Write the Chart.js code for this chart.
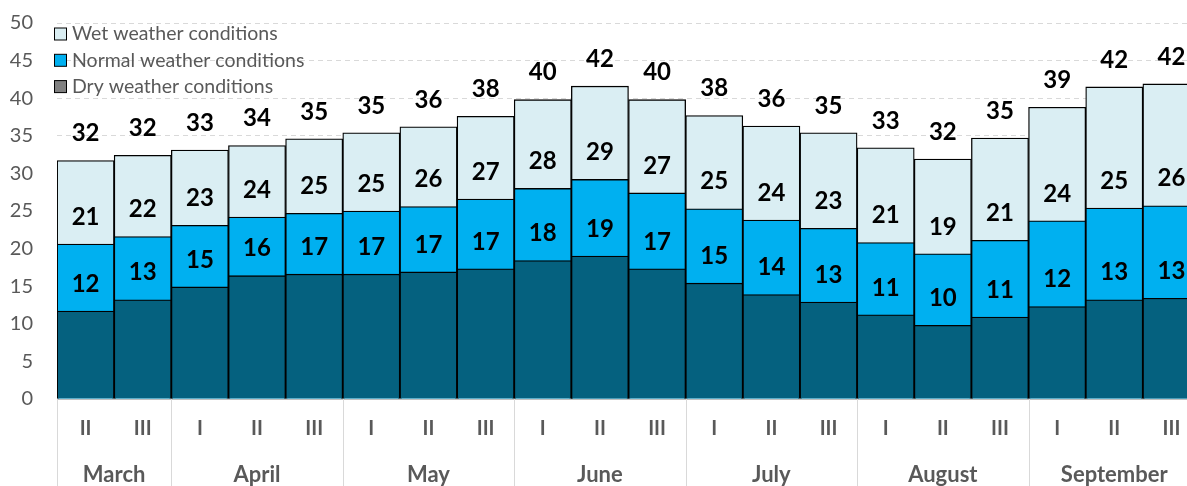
<!DOCTYPE html>
<html>
<head>
<meta charset="utf-8">
<script src="https://cdn.jsdelivr.net/npm/chart.js@4.4.0/dist/chart.umd.min.js"></script>
<style>
html, body { margin: 0; padding: 0; overflow: hidden; background: #fff; }
</style>
</head>
<body>
<canvas id="chart" width="1200" height="486"></canvas>
<script>
// ten-day periods and the month each group belongs to
const decades = ['II', 'III', 'I', 'II', 'III', 'I', 'II', 'III', 'I', 'II', 'III', 'I', 'II', 'III', 'I', 'II', 'III', 'I', 'II', 'III'];
const months = ['March', 'April', 'May', 'June', 'July', 'August', 'September'];
const monthSpans = [2, 3, 3, 3, 3, 3, 3];

// level reached under each scenario (bars overlap, they are not summed)
const dryLevel = [11.7, 13.2, 14.9, 16.4, 16.6, 16.6, 16.9, 17.3, 18.4, 19.0, 17.3, 15.4, 13.9, 12.9, 11.2, 9.8, 10.9, 12.3, 13.2, 13.4];
const normalLevel = [20.6, 21.6, 23.1, 24.2, 24.7, 25.0, 25.6, 26.6, 28.0, 29.2, 27.4, 25.3, 23.8, 22.7, 20.8, 19.3, 21.1, 23.7, 25.4, 25.7];
const wetLevel = [31.7, 32.4, 33.1, 33.7, 34.6, 35.4, 36.2, 37.6, 39.8, 41.6, 39.8, 37.7, 36.3, 35.4, 33.4, 31.9, 34.7, 38.8, 41.5, 41.9];

const yTicks = [0, 5, 10, 15, 20, 25, 30, 35, 40, 45, 50];

const legendItems = [
    { text: 'Wet weather conditions', color: '#DAEEF3' },
    { text: 'Normal weather conditions', color: '#00B0F0' },
    { text: 'Dry weather conditions', color: '#808080' }
];

const grey = '#595959';

// numbers sit a fixed distance above each level line
const valueLabels = {
    id: 'valueLabels',
    afterDatasetsDraw(chart) {
        const ctx = chart.ctx;
        const y = chart.scales.y;
        ctx.save();
        ctx.font = 'bold 24px Lato';
        ctx.fillStyle = '#000';
        ctx.textAlign = 'center';
        ctx.textBaseline = 'middle';
        chart.data.datasets.forEach((ds, i) => {
            const meta = chart.getDatasetMeta(i);
            meta.data.forEach((bar, j) => {
                ctx.fillText(Math.round(ds.data[j]), bar.x, y.getPixelForValue(ds.data[j]) - 27);
            });
        });
        ctx.restore();
    }
};

// second row of the category axis: month names and separators
const monthAxis = {
    id: 'monthAxis',
    afterDraw(chart) {
        const ctx = chart.ctx;
        const x = chart.scales.x;
        const area = chart.chartArea;
        const w = (area.right - area.left) / decades.length;
        ctx.save();
        ctx.strokeStyle = '#D9D9D9';
        ctx.lineWidth = 1;
        ctx.font = 'bold 22px Lato';
        ctx.fillStyle = grey;
        ctx.textAlign = 'center';
        ctx.textBaseline = 'middle';
        let start = 0;
        months.forEach((m, k) => {
            const left = Math.round(x.getPixelForValue(start) - w / 2) + 0.5;
            ctx.beginPath();
            ctx.moveTo(left, area.bottom);
            ctx.lineTo(left, chart.height);
            ctx.stroke();
            const mid = (x.getPixelForValue(start) + x.getPixelForValue(start + monthSpans[k] - 1)) / 2;
            ctx.fillText(m, mid, 475);
            start += monthSpans[k];
        });
        ctx.restore();
    }
};

const boxLegend = {
    id: 'boxLegend',
    afterDraw(chart) {
        const ctx = chart.ctx;
        ctx.save();
        ctx.font = '19.5px Lato';
        ctx.textBaseline = 'middle';
        legendItems.forEach((item, i) => {
            const cy = 34 + i * 26.3;
            ctx.fillStyle = item.color;
            ctx.fillRect(54.5, cy - 6, 12, 12);
            ctx.strokeStyle = '#000';
            ctx.lineWidth = 1;
            ctx.strokeRect(54.5, cy - 6, 12, 12);
            ctx.fillStyle = grey;
            ctx.fillText(item.text, 72, cy);
        });
        ctx.restore();
    }
};

const barStyle = {
    grouped: false,
    borderColor: '#000',
    borderWidth: 1.3,
    barPercentage: 1,
    categoryPercentage: 1
};

new Chart(document.getElementById('chart'), {
    type: 'bar',
    data: {
        labels: decades,
        datasets: [
            { ...barStyle, label: 'Dry weather conditions', data: dryLevel, backgroundColor: '#05617F', order: 1 },
            { ...barStyle, label: 'Normal weather conditions', data: normalLevel, backgroundColor: '#00B0F0', order: 2 },
            { ...barStyle, label: 'Wet weather conditions', data: wetLevel, backgroundColor: '#DAEEF3', order: 3 }
        ]
    },
    options: {
        responsive: false,
        animation: false,
        devicePixelRatio: 1,
        layout: { padding: { top: 23, left: 0, right: 0, bottom: 0 } },
        plugins: {
            legend: { display: false },
            tooltip: { enabled: false }
        },
        scales: {
            x: {
                grid: { display: false, drawTicks: false },
                border: { display: true, color: '#BFBFBF', width: 1 },
                ticks: { color: grey, font: { family: 'Lato', size: 20, weight: 'bold' }, padding: 18, maxRotation: 0, autoSkip: false },
                afterFit(scale) { scale.height = 87; }
            },
            y: {
                min: 0,
                max: 50,
                afterBuildTicks(scale) { scale.ticks = yTicks.map(v => ({ value: v })); },
                grid: { color: '#D9D9D9', lineWidth: 1, drawTicks: false },
                border: { display: false, dash: [5, 4] },
                ticks: { color: grey, font: { family: 'Lato', size: 20 }, padding: 24 },
                afterFit(scale) {
                    scale.width = 57;
                    scale.paddingTop = 0;
                    scale.paddingBottom = 0;
                }
            }
        }
    },
    plugins: [valueLabels, monthAxis, boxLegend]
});
</script>
</body>
</html>
